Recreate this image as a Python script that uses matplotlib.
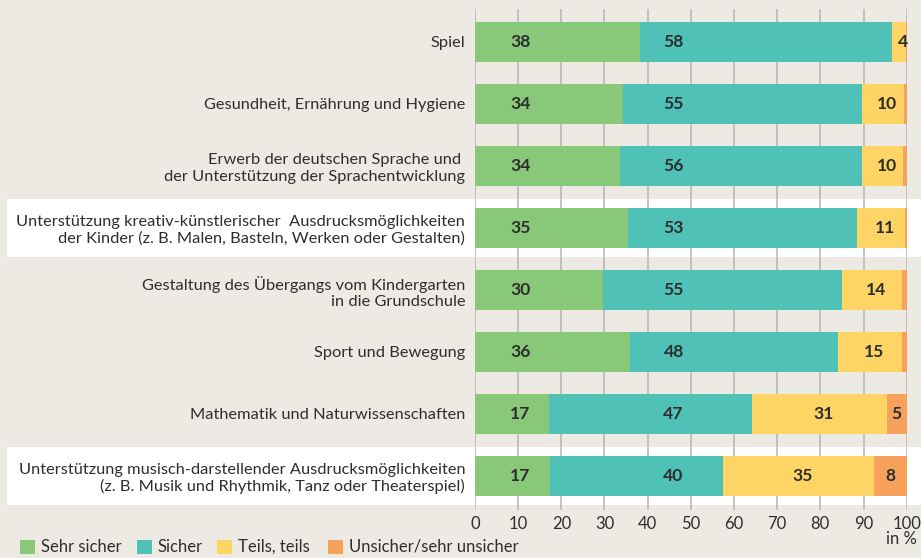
import matplotlib
matplotlib.use("Agg")
import matplotlib.pyplot as plt
import matplotlib.transforms as mtransforms
from matplotlib.patches import Rectangle
import numpy as np

plt.rcParams["font.family"] = ["Lato", "DejaVu Sans"]

categories = [
    "Spiel",
    "Gesundheit, Ernährung und Hygiene",
    "Erwerb der deutschen Sprache und \nder Unterstützung der Sprachentwicklung",
    "Unterstützung kreativ-künstlerischer  Ausdrucksmöglichkeiten\nder Kinder (z. B. Malen, Basteln, Werken oder Gestalten)",
    "Gestaltung des Übergangs vom Kindergarten\nin die Grundschule",
    "Sport und Bewegung",
    "Mathematik und Naturwissenschaften",
    "Unterstützung musisch-darstellender Ausdrucksmöglichkeiten\n(z. B. Musik und Rhythmik, Tanz oder Theaterspiel)",
]
highlight = [False, False, False, True, False, False, False, True]

# bar widths (percent)
sehr_sicher = [38.2, 34.3, 33.6, 35.4, 29.7, 35.9, 17.1, 17.4]
sicher      = [58.4, 55.4, 56.1, 53.1, 55.3, 48.2, 47.1, 40.1]
teils       = [3.2, 9.7, 9.4, 11.0, 13.9, 14.8, 31.2, 34.9]
unsicher    = [0.2, 0.6, 0.9, 0.5, 1.1, 1.1, 4.6, 7.6]

# printed labels
lab_sehr   = [38, 34, 34, 35, 30, 36, 17, 17]
lab_sicher = [58, 55, 56, 53, 55, 48, 47, 40]
lab_teils  = [4, 10, 10, 11, 14, 15, 31, 35]
lab_uns    = [None, None, None, None, None, None, 5, 8]

series = ["Sehr sicher", "Sicher", "Teils, teils", "Unsicher/sehr unsicher"]
colors = ["#89c879", "#4fc1b6", "#fed564", "#f6a25b"]
BG = "#edeae4"
TXT = "#2e2e2e"

fig = plt.figure(figsize=(9.21, 5.58), dpi=100, facecolor=BG)
ax = fig.add_axes([0.5157, 0.086, 0.4688, 0.898])
ax.set_facecolor("none")

y = np.arange(len(categories))
H = 0.645
left = np.zeros(len(categories))
for vals, col in zip([sehr_sicher, sicher, teils, unsicher], colors):
    ax.barh(y, vals, left=left, height=H, color=col, zorder=2)
    left += np.array(vals)

# white bands behind highlighted rows
trans = mtransforms.blended_transform_factory(fig.transFigure, ax.transData)
for i, h in enumerate(highlight):
    if h:
        ax.add_patch(Rectangle((7 / 921, i - 0.465), 1.0, 0.93, transform=trans,
                               facecolor="white", edgecolor="none", zorder=0, clip_on=False))

# value labels
VS = 12.6
for i in range(len(categories)):
    ax.text(10.5, i, str(lab_sehr[i]), ha="center", va="center", fontsize=VS,
            fontweight="bold", color=TXT, zorder=3)
    ax.text(46, i, str(lab_sicher[i]), ha="center", va="center", fontsize=VS,
            fontweight="bold", color=TXT, zorder=3)
    x_t = sehr_sicher[i] + sicher[i] + teils[i] / 2 + 1
    ax.text(x_t, i, str(lab_teils[i]), ha="center", va="center", fontsize=VS,
            fontweight="bold", color=TXT, zorder=3)
    if lab_uns[i] is not None:
        x_u = 100 - unsicher[i] / 2
        ax.text(x_u, i, str(lab_uns[i]), ha="center", va="center", fontsize=VS,
                fontweight="bold", color=TXT, zorder=3)

ax.set_xlim(0, 100)
ax.set_ylim(7.55, -0.53)
ax.set_xticks(range(0, 101, 10))
ax.set_yticks(y)
ax.set_yticklabels(categories, fontsize=11.8, color=TXT, linespacing=1.2)
ax.tick_params(axis="both", length=0, colors=TXT)
ax.tick_params(axis="x", labelsize=12, pad=4)
ax.tick_params(axis="y", pad=7)
ax.grid(axis="x", color="#b4b4b4", lw=1.1, zorder=1)
ax.set_axisbelow(True)
for s in ax.spines.values():
    s.set_visible(False)

fig.text(917 / 921, 1 - 539 / 558, "in %", ha="right", va="center", fontsize=12, color=TXT)

# legend
leg_x = [20, 137, 217, 328]
for lx, lab, col in zip(leg_x, series, colors):
    fig.patches.append(Rectangle((lx / 921, 1 - 554 / 558), 15 / 921, 14 / 558,
                                 transform=fig.transFigure, facecolor=col, edgecolor="none"))
    fig.text((lx + 21) / 921, 1 - 547 / 558, lab, ha="left", va="center", fontsize=12, color=TXT)

fig.savefig("out.png", dpi=100, facecolor=BG)
